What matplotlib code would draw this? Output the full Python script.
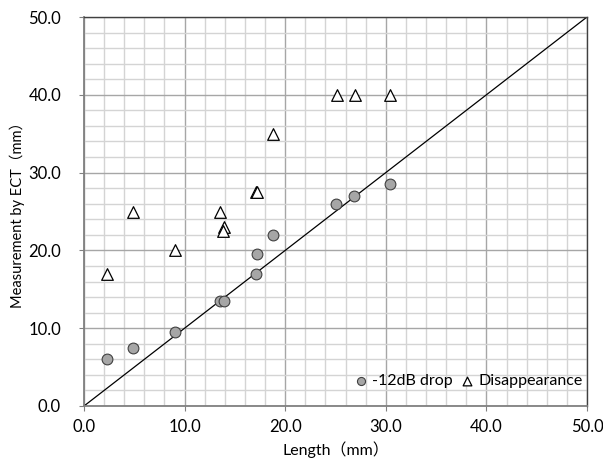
import numpy as np
import matplotlib.pyplot as plt
from matplotlib.ticker import MultipleLocator

# -12dB drop data
drop_x = [2.3, 4.9, 9.0, 13.5, 13.9, 17.1, 17.2, 18.8, 25.0, 26.8, 30.4]
drop_y = [6.0, 7.5, 9.5, 13.5, 13.5, 17.0, 19.5, 22.0, 26.0, 27.0, 28.5]

# disappearance data
dis_x = [2.3, 4.9, 9.0, 13.5, 13.9, 13.8, 17.1, 17.2, 18.8, 25.1, 26.9, 30.4]
dis_y = [17.0, 25.0, 20.0, 25.0, 23.0, 22.5, 27.5, 27.5, 35.0, 40.0, 40.0, 40.0]

ticks = [0, 10, 20, 30, 40, 50]
tick_labels = ['0.0', '10.0', '20.0', '30.0', '40.0', '50.0']

fonts = ['Lato', 'Noto Sans CJK JP', 'DejaVu Sans']
plt.rcParams['font.family'] = fonts

fig = plt.figure(figsize=(6.03, 4.72), dpi=100)
ax = fig.add_axes([84 / 603, 1 - 406 / 472, 503 / 603, 389 / 472])

ax.set_xlim(0, 50)
ax.set_ylim(0, 50)
ax.xaxis.set_minor_locator(MultipleLocator(2))
ax.yaxis.set_minor_locator(MultipleLocator(2))
ax.set_xticks(ticks)
ax.set_yticks(ticks)
ax.set_xticklabels(tick_labels, fontsize=12)
ax.set_yticklabels(tick_labels, fontsize=12)
ax.grid(which='minor', color='#d4d4d4', linewidth=1.0)
ax.grid(which='major', color='#a6a6a6', linewidth=1.0)
ax.set_axisbelow(True)
ax.tick_params(axis='y', which='major', direction='out', length=3.5, color='#808080', pad=13)
ax.tick_params(axis='x', which='major', direction='out', length=3.5, color='#808080', pad=5.5)
ax.tick_params(which='minor', length=0)

for side in ['left', 'bottom']:
    ax.spines[side].set_color('#808080')
    ax.spines[side].set_linewidth(1.3)
for side in ['top', 'right']:
    ax.spines[side].set_color('#404040')
    ax.spines[side].set_linewidth(1.0)

ax.plot([0, 50], [0, 50], color='black', linewidth=0.9, zorder=2)
ax.scatter(drop_x, drop_y, s=60, marker='o', facecolor='#a6a6a6',
           edgecolor='#404040', linewidth=0.8, zorder=3, label='-12dB drop')
ax.scatter(dis_x, dis_y, s=70, marker='^', facecolor='white',
           edgecolor='black', linewidth=0.9, zorder=3, label='Disappearance')

ax.legend(loc='lower right', ncol=2, frameon=False, fontsize=11.5,
          handlelength=0.8, handletextpad=0.3, columnspacing=0.5,
          markerscale=0.75, borderpad=0.2, bbox_to_anchor=(1.013, 0.017))

ax.set_xlabel('Length（mm）', fontsize=11.5)
ax.xaxis.set_label_coords(0.5, -0.09)
ax.set_ylabel('Measurement by ECT（mm）', fontsize=10.5)
ax.yaxis.set_label_coords(-0.117, 0.5)

fig.savefig('out.png', dpi=100)
